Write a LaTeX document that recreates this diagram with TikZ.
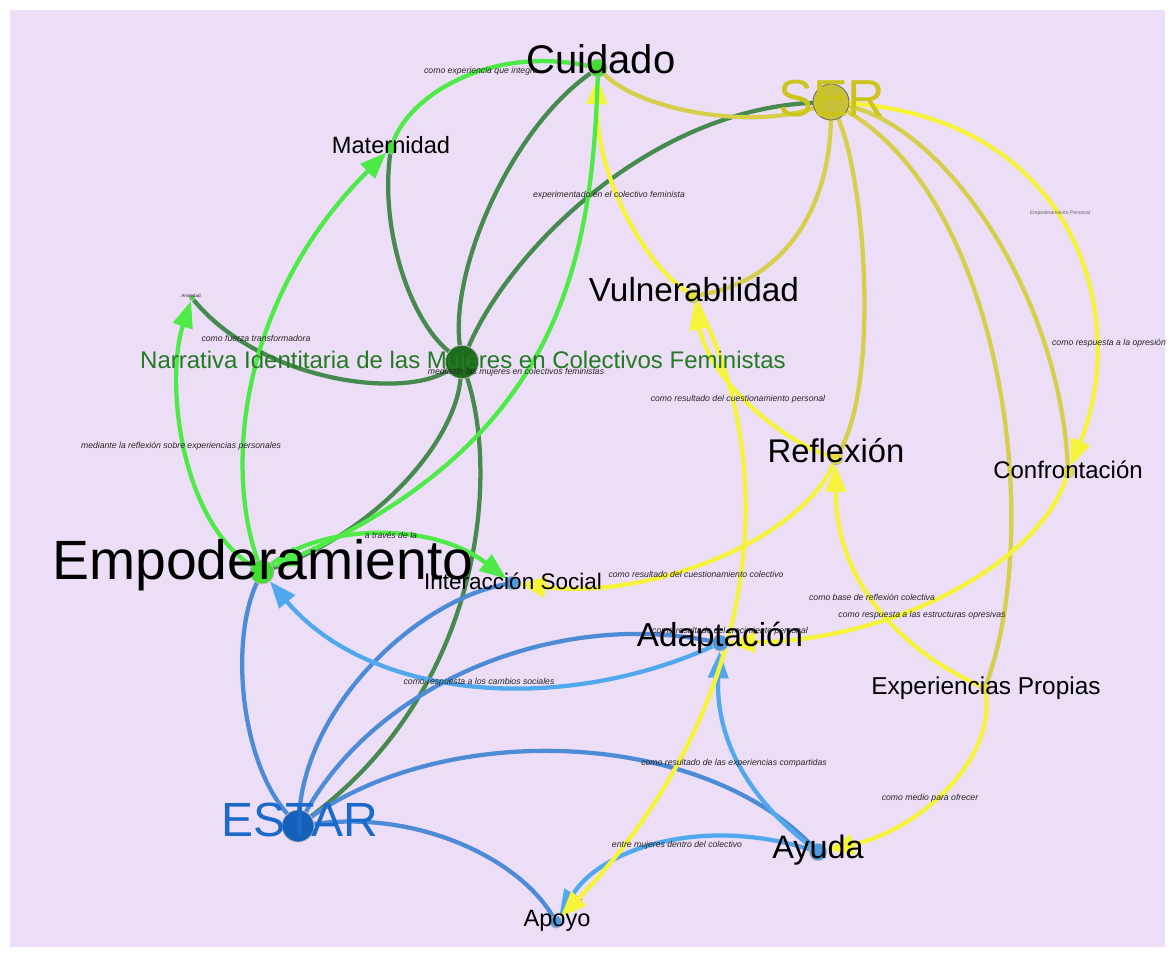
\documentclass[tikz,border=0pt]{standalone}
\usepackage{fontspec}
\setmainfont{Liberation Sans}
\usetikzlibrary{arrows.meta}
\definecolor{bgc}{HTML}{ECDEF6}
\definecolor{lgreen}{HTML}{4EEA48}
\definecolor{dgreen}{HTML}{468A50}
\definecolor{olive}{HTML}{D6CF4C}
\definecolor{byellow}{HTML}{F6F43A}
\definecolor{mblue}{HTML}{4D8BD6}
\definecolor{lblue}{HTML}{52A8EC}
\definecolor{dotgreen}{HTML}{44DD33}
\definecolor{dotdark}{HTML}{1E6B1E}
\definecolor{dotyel}{HTML}{E6DE40}
\definecolor{dotser}{HTML}{C8C23A}
\definecolor{dotblue}{HTML}{4A9AE0}
\definecolor{dotestar}{HTML}{1560B8}
\definecolor{txtnar}{HTML}{237A23}
\definecolor{txtser}{HTML}{CCC41A}
\definecolor{txtestar}{HTML}{1B6AC9}
\pgfdeclarelayer{back}
\pgfdeclarelayer{edgelayer}
\pgfsetlayers{back,edgelayer,main}
\tikzset{
  dot/.style={circle, inner sep=0pt, draw=gray!55, line width=0.6pt},
  nt/.style={anchor=base, inner sep=0pt, text=black},
  lbl/.style={font=\fontsize{6.5}{7}\selectfont\itshape, text=black!85, inner sep=0pt},
  edge/.style={line width=3.2pt, line cap=round},
  tip/.style={-{Triangle[length=20pt,width=15pt]}},
}
\begin{document}
\begin{tikzpicture}[x=0.75pt,y=-0.75pt]
\useasboundingbox (0,0) rectangle (1175,957);
\begin{pgfonlayer}{back}
\fill[white] (0,0) rectangle (1175,957);
\fill[bgc] (10,10) rectangle (1165,947);
\end{pgfonlayer}

% dots
\node[dot, fill=dotgreen, minimum size=13.5pt] (cui) at (598,68) {};
\node[dot, fill=dotser, draw=black!60, minimum size=27pt] (ser) at (831,102) {};
\node[dot, fill=dotgreen, minimum size=9pt] (mat) at (391,148) {};
\node[dot, fill=dotgreen, minimum size=4pt] (ans) at (192,298) {};
\node[dot, fill=dotdark, minimum size=25pt] (nar) at (462,362) {};
\node[dot, fill=dotyel, minimum size=10pt] (vul) at (693,296) {};
\node[dot, fill=dotyel, minimum size=10pt] (ref) at (836,458) {};
\node[dot, fill=dotyel, minimum size=9pt] (con) at (1068,472) {};
\node[dot, fill=dotgreen, minimum size=18pt] (emp) at (262,572) {};
\node[dot, fill=dotblue, minimum size=10pt] (int) at (512,583) {};
\node[dot, fill=dotblue, minimum size=12pt] (ada) at (720,643) {};
\node[dot, fill=dotyel, minimum size=8pt] (exp) at (985,688) {};
\node[dot, fill=dotestar, minimum size=24pt] (est) at (298,826) {};
\node[dot, fill=dotblue, minimum size=13pt] (ayu) at (818,852) {};
\node[dot, fill=dotblue, minimum size=9pt] (apo) at (556,922) {};

\begin{pgfonlayer}{edgelayer}
% dark green
\draw[edge, dgreen] (mat) .. controls (380,230) and (410,320) .. (nar);
\draw[edge, dgreen] (nar) .. controls (450,270) and (510,130) .. (cui);
\draw[edge, dgreen] (nar) .. controls (510,250) and (650,110) .. (ser);
\draw[edge, dgreen] (nar) .. controls (400,400) and (260,380) .. (ans);
\draw[edge, dgreen] (nar) .. controls (455,440) and (380,530) .. (emp);
\draw[edge, dgreen] (nar) .. controls (500,480) and (480,690) .. (est);
% olive
\draw[edge, olive] (cui) .. controls (640,110) and (750,130) .. (ser);
\draw[edge, olive] (ser) .. controls (830,200) and (790,280) .. (vul);
\draw[edge, olive] (ser) .. controls (865,180) and (880,380) .. (ref);
\draw[edge, olive] (ser) .. controls (1000,200) and (1045,520) .. (exp);
\draw[edge, olive] (ser) .. controls (950,130) and (1060,300) .. (con);
% blue
\draw[edge, mblue] (est) .. controls (240,760) and (230,640) .. (emp);
\draw[edge, mblue] (est) .. controls (310,700) and (420,600) .. (int);
\draw[edge, mblue] (est) .. controls (380,680) and (560,610) .. (ada);
\draw[edge, mblue] (est) .. controls (450,720) and (700,730) .. (ayu);
\draw[edge, mblue] (est) .. controls (420,810) and (520,860) .. (apo);
\draw[edge, lblue, tip] (ada) .. controls (560,715) and (370,700) .. (emp);
\draw[edge, lblue, tip] (ayu) .. controls (750,800) and (715,740) .. (ada);
\draw[edge, lblue, tip] (ayu) .. controls (700,815) and (600,850) .. (apo);
% bright yellow
\draw[edge, byellow, tip] (vul) .. controls (640,260) and (595,170) .. (cui);
\draw[edge, byellow, tip] (ref) .. controls (780,440) and (710,380) .. (vul);
\draw[edge, byellow, tip] (vul) .. controls (790,480) and (750,720) .. (apo);
\draw[edge, byellow, tip] (ref) .. controls (800,540) and (650,600) .. (int);
\draw[edge, byellow, tip] (con) .. controls (1040,560) and (900,640) .. (ada);
\draw[edge, byellow, tip] (exp) .. controls (900,650) and (835,580) .. (ref);
\draw[edge, byellow, tip] (exp) .. controls (995,760) and (920,830) .. (ayu);
\draw[edge, byellow, tip] (ser) .. controls (1080,120) and (1130,320) .. (con);
% bright green
\draw[edge, lgreen, tip] (emp) .. controls (225,470) and (238,300) .. (mat);
\draw[edge, lgreen, tip] (emp) .. controls (180,520) and (165,380) .. (ans);
\draw[edge, lgreen] (mat) .. controls (410,95) and (490,45) .. (cui);
\draw[edge, lgreen, tip] (cui) .. controls (592,260) and (560,440) .. (emp);
\draw[edge, lgreen, tip] (emp) .. controls (320,525) and (430,520) .. (int);
\end{pgfonlayer}

% node texts
\node[nt, font=\fontsize{30}{32}\selectfont] (cuiT) at (601,73) {Cuidado};
\node[nt, font=\fontsize{39}{41}\selectfont, text=txtser] (serT) at (832,116) {SER};
\node[nt, font=\fontsize{17.7}{19}\selectfont] (matT) at (391,153) {Maternidad};
\node[nt, font=\fontsize{18}{20}\selectfont, text=txtnar] (narT) at (463,368) {Narrativa Identitaria de las Mujeres en Colectivos Feministas};
\node[nt, font=\fontsize{25}{27}\selectfont] (vulT) at (694,301) {Vulnerabilidad};
\node[nt, font=\fontsize{24.6}{26}\selectfont] (refT) at (836,462) {Reflexión};
\node[nt, font=\fontsize{18}{20}\selectfont] (conT) at (1068,478) {Confrontación};
\node[nt, font=\fontsize{41.5}{43}\selectfont] (empT) at (263,579) {Empoderamiento};
\node[nt, font=\fontsize{16.9}{18}\selectfont] (intT) at (513,589) {Interacción Social};
\node[nt, font=\fontsize{24.9}{26}\selectfont] (adaT) at (720,646) {Adaptación};
\node[nt, font=\fontsize{18.3}{20}\selectfont] (expT) at (986,694) {Experiencias Propias};
\node[nt, font=\fontsize{36}{38}\selectfont, text=txtestar] (estT) at (300,836) {ESTAR};
\node[nt, font=\fontsize{24.3}{26}\selectfont] (ayuT) at (818,858) {Ayuda};
\node[nt, font=\fontsize{17.7}{19}\selectfont] (apoT) at (557,926) {Apoyo};

% edge labels
\node[lbl] (l1) at (481,71) {como experiencia que integra};
\node[lbl] (l2) at (609,195) {experimentado en el colectivo feminista};
\node[lbl, font=\fontsize{3.5}{4}\selectfont] (l3) at (191,296) {Ansiedad};
\node[lbl] (l4) at (256,338) {como fuerza transformadora};
\node[lbl] (l5) at (516,372) {mediante las mujeres en colectivos feministas};
\node[lbl] (l6) at (181,446) {mediante la reflexión sobre experiencias personales};
\node[lbl] (l7) at (391,535) {a través de la};
\node[lbl] (l8) at (696,574) {como resultado del cuestionamiento colectivo};
\node[lbl] (l9) at (738,399) {como resultado del cuestionamiento personal};
\node[lbl] (l10) at (872,597) {como base de reflexión colectiva};
\node[lbl] (l11) at (922,615) {como respuesta a las estructuras opresivas};
\node[lbl] (l12) at (1109,343) {como respuesta a la opresión};
\node[lbl, font=\fontsize{3.8}{4}\selectfont, text=black!60] (l13) at (1060,213) {Empoderamiento Personal};
\node[lbl] (l14) at (734,763) {como resultado de las experiencias compartidas};
\node[lbl] (l15) at (677,845) {entre mujeres dentro del colectivo};
\node[lbl] (l16) at (930,798) {como medio para ofrecer};
\node[lbl] (l17) at (479,682) {como respuesta a los cambios sociales};
\node[lbl] (l18) at (730,631) {como resultado del crecimiento personal};
\end{tikzpicture}
\end{document}
